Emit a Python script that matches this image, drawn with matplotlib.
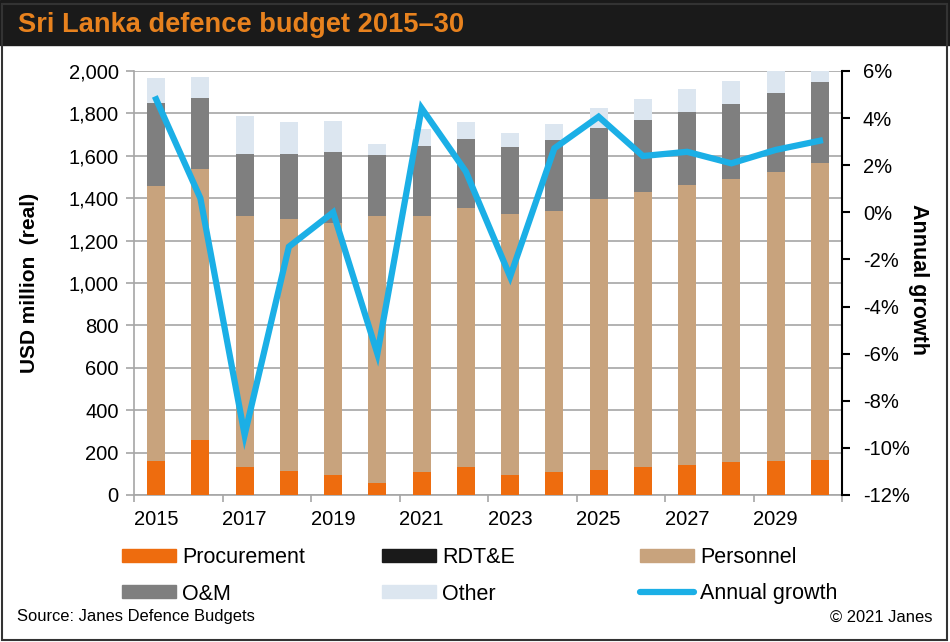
import matplotlib.pyplot as plt
import numpy as np
from matplotlib.patches import Patch, Rectangle
from matplotlib.lines import Line2D
from matplotlib.ticker import FuncFormatter

plt.rcParams['font.family'] = ['Liberation Sans', 'DejaVu Sans']

#Data (USD million, real)
years = list(range(2015, 2031))
procurement = [162, 259, 131, 112, 96, 58, 107, 131, 94, 107, 118, 131, 143, 154, 160, 167]
rdte = [0]*16
personnel_top = [1458, 1538, 1316, 1303, 1281, 1316, 1316, 1354, 1324, 1340, 1396, 1428, 1464, 1489, 1525, 1567]
om_top = [1851, 1874, 1610, 1610, 1616, 1602, 1648, 1678, 1641, 1673, 1733, 1770, 1807, 1843, 1898, 1947]
total = [1965, 1973, 1788, 1758, 1764, 1654, 1726, 1758, 1709, 1751, 1826, 1866, 1917, 1953, 2010, 2030]
growth = [4.8, 0.6, -9.45, -1.46, 0.0, -6.0, 4.42, 1.73, -2.73, 2.72, 4.06, 2.39, 2.57, 2.08, 2.65, 3.04]
tick_years = ['2015', '2017', '2019', '2021', '2023', '2025', '2027', '2029']

personnel = np.array(personnel_top) - np.array(procurement)
om = np.array(om_top) - np.array(personnel_top)
other = np.array(total) - np.array(om_top)

c_proc = '#EE6C0E'
c_rdte = '#1A1A1A'
c_pers = '#C8A37D'
c_om = '#7F7F7F'
c_other = '#DCE6F0'
c_line = '#1BAFE6'
c_grid = '#A6A6A6'

fig = plt.figure(figsize=(9.5, 6.42), dpi=100)

#Title band and outer frame
fig.patches.append(Rectangle((0, 1-45/642), 1, 45/642, transform=fig.transFigure, color='#1A1A1A', zorder=0))
fig.patches.append(Rectangle((0.002, 0.003), 0.995, 0.99, transform=fig.transFigure, fill=False, edgecolor='#333333', linewidth=1.5, zorder=0))
fig.text(18/950, 1-25/642, 'Sri Lanka defence budget 2015\u201330', color='#E8821E', fontsize=19.6, fontweight='bold', va='center', ha='left')

ax = fig.add_axes([134/950, 1-495/642, 708/950, 424/642])
x = np.arange(len(years))
w = 0.41
ax.bar(x, procurement, w, color=c_proc, zorder=3)
ax.bar(x, rdte, w, bottom=procurement, color=c_rdte, zorder=3)
ax.bar(x, personnel, w, bottom=procurement, color=c_pers, zorder=3)
ax.bar(x, om, w, bottom=personnel_top, color=c_om, zorder=3)
ax.bar(x, other, w, bottom=om_top, color=c_other, zorder=3)

ax.set_xlim(-0.5, 15.5)
ax.set_ylim(0, 2000)
ax.set_yticks(np.arange(0, 2001, 200))
ax.yaxis.set_major_formatter(FuncFormatter(lambda v, p: f'{int(v):,}'))
ax.grid(axis='y', color=c_grid, linewidth=1.2, zorder=0)
ax.set_axisbelow(True)
ax.set_xticks(np.arange(-0.5, 16, 2))
ax.set_xticklabels([])
ax.set_xticks(np.arange(0, 16, 2), minor=True)
ax.set_xticklabels(tick_years, minor=True)
ax.tick_params(axis='x', which='major', length=5, color=c_grid, width=1.2)
ax.tick_params(axis='x', which='minor', length=0, labelsize=14.5, pad=11)
ax.tick_params(axis='y', length=6, color=c_grid, width=1.2, labelsize=14.5, pad=5)
for s in ['top', 'right']:
    ax.spines[s].set_visible(False)
for s in ['left', 'bottom']:
    ax.spines[s].set_color(c_grid)
    ax.spines[s].set_linewidth(1.2)

ax2 = ax.twinx()
ax2.plot(x, growth, color=c_line, linewidth=4.5, solid_joinstyle='miter', zorder=5)
ax2.set_ylim(-12, 6)
ax2.set_yticks(np.arange(-12, 7, 2))
ax2.yaxis.set_major_formatter(FuncFormatter(lambda v, p: f'{int(v)}%'))
ax2.tick_params(axis='y', length=6, width=1.5, color='black', labelsize=14.5, pad=9)
for s in ['top', 'left', 'bottom']:
    ax2.spines[s].set_visible(False)
ax2.spines['right'].set_linewidth(1.5)

fig.text(30/950, 1-283/642, 'USD million  (real)', rotation=90, fontsize=15, fontweight='bold', ha='center', va='center')
fig.text(918/950, 1-279/642, 'Annual growth', rotation=270, fontsize=15.5, fontweight='bold', ha='center', va='center')

#Legend in three fixed columns
cols = [
    [(Patch(color=c_proc), 'Procurement'), (Patch(color=c_om), 'O&M')],
    [(Patch(color=c_rdte), 'RDT&E'), (Patch(color=c_other), 'Other')],
    [(Patch(color=c_pers), 'Personnel'), (Line2D([], [], color=c_line, linewidth=4.5, solid_capstyle='round'), 'Annual growth')],
]
for i, xl in enumerate([122, 382, 640]):
    h = [c[0] for c in cols[i]]
    l = [c[1] for c in cols[i]]
    fig.legend(h, l, loc='upper left', bbox_to_anchor=(xl/950, 1-547/642), frameon=False,
               fontsize=15.5, handlelength=2.5, handleheight=0.55, handletextpad=0.3,
               labelspacing=0.72, borderpad=0, borderaxespad=0)

fig.text(17/950, 1-617/642, 'Source: Janes Defence Budgets', fontsize=11.9, va='center', ha='left')
fig.text(932/950, 1-617/642, '\u00a9 2021 Janes', fontsize=11.9, va='center', ha='right')

fig.savefig('out.png', dpi=100)
